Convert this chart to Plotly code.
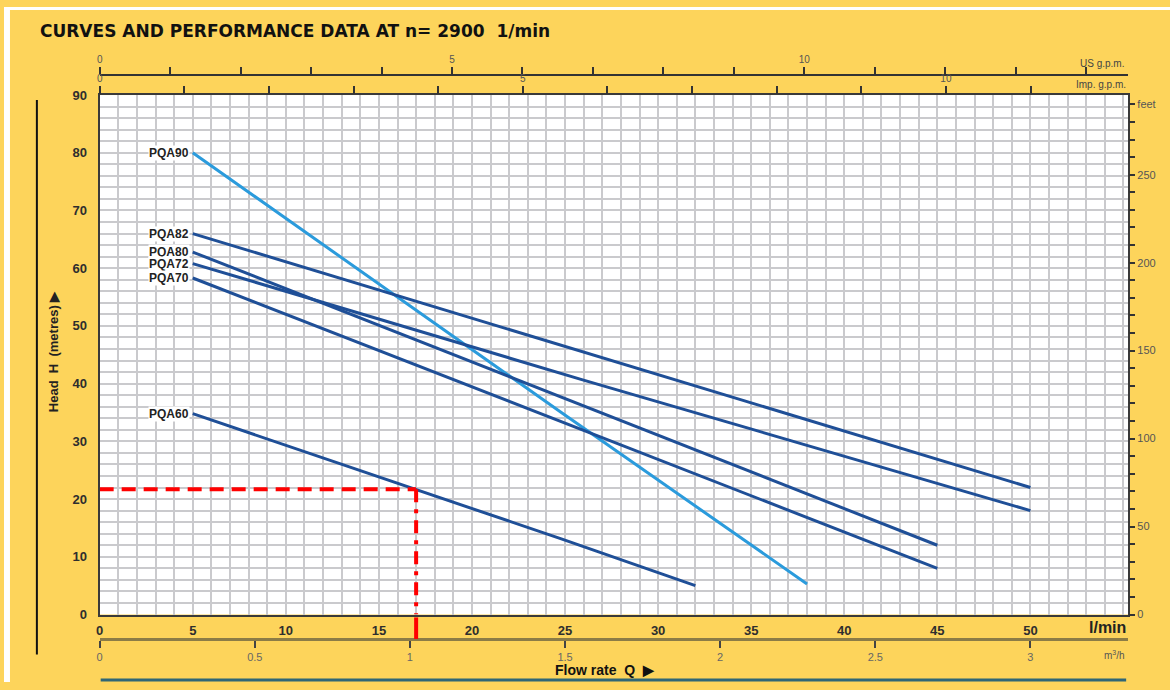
import plotly.graph_objects as go

# ---------------- data ----------------
models = ["PQA90", "PQA82", "PQA80", "PQA72", "PQA70", "PQA60"]
flow_lpm = {
    "PQA90": [5, 24.8, 38.0],
    "PQA82": [5, 30.2, 50.0],
    "PQA80": [5, 24.8, 45.0],
    "PQA72": [5, 25.9, 50.0],
    "PQA70": [5, 24.8, 45.0],
    "PQA60": [5, 24.8, 32.0],
}
head_m = {
    "PQA90": [80.0, 35.0, 5.3],
    "PQA82": [66.0, 41.4, 22.0],
    "PQA80": [62.8, 37.7, 12.0],
    "PQA72": [60.8, 40.7, 18.0],
    "PQA70": [58.3, 33.4, 8.0],
    "PQA60": [34.8, 13.1, 5.0],
}
curve_colors = {
    "PQA90": "#2b9bdc",
    "PQA82": "#1f4f97",
    "PQA80": "#1f4f97",
    "PQA72": "#1f4f97",
    "PQA70": "#1f4f97",
    "PQA60": "#1f4f97",
}
duty_q = 17.0   # l/min
duty_h = 21.7   # m

lpm_ticks = list(range(0, 51, 5))
head_ticks = list(range(0, 91, 10))
m3h_ticks = [0, 0.5, 1, 1.5, 2, 2.5, 3]
m3h_labels = ["0", "0.5", "1", "1.5", "2", "2.5", "3"]
usgpm_ticks = list(range(0, 15))
usgpm_labels = ["0" if v == 0 else ("5" if v == 5 else ("10" if v == 10 else " ")) for v in usgpm_ticks]
impgpm_ticks = list(range(0, 12))
impgpm_labels = ["0" if v == 0 else ("5" if v == 5 else ("10" if v == 10 else " ")) for v in impgpm_ticks]
feet_ticks = list(range(0, 291, 10))
feet_labels = [("feet" if v == 290 else (str(v) if v % 50 == 0 else " ")) for v in feet_ticks]

Q_RANGE = [0, 55.25]
H_RANGE = [0, 90]
LPM_PER_USGPM = 3.78541
LPM_PER_IMPGPM = 4.54609
LPM_PER_M3H = 1000 / 60
M_PER_FT = 0.3048

# ---------------- layout helpers ----------------
W, H = 1170, 690
def px(x):
    return x / W
def py(y):
    return 1 - y / H

FONT = "Liberation Sans"
HEAVY = "DejaVu Sans"
YELLOW = "#fdd45b"
GRID = "#cacacd"
L, R, T, B = 96, 1128, 90, 621

fig = go.Figure()

for m in models:
    fig.add_trace(go.Scatter(
        x=flow_lpm[m], y=head_m[m], mode="lines",
        line=dict(color=curve_colors[m], width=3),
        showlegend=False, hoverinfo="skip"))

# duty point lines
fig.add_trace(go.Scatter(
    x=[0, duty_q], y=[duty_h, duty_h], mode="lines",
    line=dict(color="#ff0000", width=4, dash="14px,8px"),
    showlegend=False, hoverinfo="skip"))
fig.add_trace(go.Scatter(
    x=[duty_q, duty_q], y=[duty_h, 0], mode="lines",
    line=dict(color="#ff0000", width=4, dash="13px,7px,4px,7px"),
    showlegend=False, hoverinfo="skip"))

# invisible traces to activate secondary axes
for xa, ya in [("x2", "y"), ("x3", "y"), ("x4", "y"), ("x", "y2")]:
    fig.add_trace(go.Scatter(x=[0], y=[0], xaxis=xa, yaxis=ya, mode="markers",
                             marker=dict(opacity=0), showlegend=False, hoverinfo="skip"))

tick_bold = dict(family=FONT, size=13, color="#2e2e2e", weight="bold")
small = dict(family=FONT, size=10, color="#555555")

fig.update_layout(
    width=W, height=H,
    margin=dict(l=0, r=0, t=0, b=0),
    paper_bgcolor=YELLOW, plot_bgcolor="white",
    showlegend=False,
    xaxis=dict(
        domain=[px(L), px(R)], range=Q_RANGE, tickmode="array", tickvals=lpm_ticks,
        showgrid=True, gridcolor=GRID, gridwidth=1.6,
        minor=dict(tickmode="linear", tick0=0, dtick=1, showgrid=True,
                   gridcolor=GRID, gridwidth=1.6, ticks=""),
        showline=True, linecolor="#3a3a3a", linewidth=2, mirror=True,
        ticks="", tickfont=tick_bold, ticklabelstandoff=3, zeroline=False,
        anchor="y", fixedrange=True),
    yaxis=dict(
        domain=[py(B), py(T)], range=H_RANGE, tickmode="array", tickvals=head_ticks,
        showgrid=True, gridcolor=GRID, gridwidth=1.6,
        minor=dict(tickmode="linear", tick0=0, dtick=2, showgrid=True,
                   gridcolor=GRID, gridwidth=1.6, ticks=""),
        showline=True, linecolor="#3a3a3a", linewidth=2, mirror=True,
        ticks="", tickfont=tick_bold, ticklabelstandoff=8, zeroline=False,
        anchor="x", fixedrange=True),
    yaxis2=dict(
        overlaying="y", side="right", anchor="x",
        range=[H_RANGE[0] / M_PER_FT, H_RANGE[1] / M_PER_FT],
        tickmode="array", tickvals=feet_ticks, ticktext=feet_labels,
        ticks="outside", ticklen=6, tickwidth=1.5, tickcolor="#333333",
        showgrid=False, showline=False, zeroline=False,
        tickfont=dict(family=FONT, size=11, color="#555555"), fixedrange=True),
    xaxis2=dict(
        overlaying="x", side="top", anchor="y",
        range=[Q_RANGE[0] / LPM_PER_IMPGPM, Q_RANGE[1] / LPM_PER_IMPGPM],
        tickmode="array", tickvals=impgpm_ticks, ticktext=impgpm_labels,
        ticks="outside", ticklen=8, tickwidth=1.5, tickcolor="#333333",
        showgrid=False, showline=False, zeroline=False,
        tickfont=small, fixedrange=True),
    xaxis3=dict(
        overlaying="x", side="top", anchor="free", position=py(69),
        range=[Q_RANGE[0] / LPM_PER_USGPM, Q_RANGE[1] / LPM_PER_USGPM],
        tickmode="array", tickvals=usgpm_ticks, ticktext=usgpm_labels,
        ticks="outside", ticklen=7, tickwidth=1.5, tickcolor="#333333",
        showgrid=False, showline=True, linecolor="#333333", linewidth=2, zeroline=False,
        tickfont=small, fixedrange=True),
    xaxis4=dict(
        overlaying="x", side="bottom", anchor="free", position=py(646),
        range=[Q_RANGE[0] / LPM_PER_M3H, Q_RANGE[1] / LPM_PER_M3H],
        tickmode="array", tickvals=m3h_ticks, ticktext=m3h_labels,
        ticks="outside", ticklen=7, tickwidth=1.5, tickcolor="#444444",
        showgrid=False, showline=True, linecolor="#8c7c46", linewidth=2.5, zeroline=False,
        tickfont=dict(family=FONT, size=11, color="#666666"), fixedrange=True),
)

ann = []
ann.append(dict(xref="paper", yref="paper", x=px(34), y=py(25), xanchor="left", yanchor="middle",
                text="<b>CURVES AND PERFORMANCE DATA AT n= 2900\u00a0\u00a01/min</b>",
                showarrow=False, font=dict(family=HEAVY, size=17, color="#111111")))
ann.append(dict(xref="paper", yref="paper", x=px(50), y=py(352), xanchor="center", yanchor="middle",
                textangle=-90, text="<b>Head\u00a0\u00a0H\u00a0\u00a0(metres)\u00a0\u25B6</b>",
                showarrow=False, font=dict(family=FONT, size=13, color="#222222")))
ann.append(dict(xref="paper", yref="paper", x=px(603), y=py(678), xanchor="center", yanchor="middle",
                text="<b>Flow rate\u00a0\u00a0Q\u00a0\u00a0\u25B6</b>",
                showarrow=False, font=dict(family=FONT, size=14, color="#111111")))
ann.append(dict(xref="paper", yref="paper", x=px(1128), y=py(634), xanchor="right", yanchor="middle",
                text="<b>l/min</b>", showarrow=False, font=dict(family=FONT, size=16, color="#222222")))
ann.append(dict(xref="paper", yref="paper", x=px(1127), y=py(662), xanchor="right", yanchor="middle",
                text="m<sup>3</sup>/h", showarrow=False, font=dict(family=FONT, size=10, color="#555555")))
ann.append(dict(xref="paper", yref="paper", x=px(1126), y=py(58), xanchor="right", yanchor="middle",
                text="US g.p.m.", showarrow=False, font=dict(family=FONT, size=10, color="#444444")))
ann.append(dict(xref="paper", yref="paper", x=px(1128), y=py(79), xanchor="right", yanchor="middle",
                text="Imp. g.p.m.", showarrow=False, font=dict(family=FONT, size=10, color="#444444")))
for m in models:
    ann.append(dict(xref="x", yref="y", x=flow_lpm[m][0], y=head_m[m][0], xanchor="right",
                    yanchor="middle", xshift=-3, text="<b>" + m + "</b>", showarrow=False,
                    bgcolor="white", borderpad=0,
                    font=dict(family=FONT, size=12, color="#222222")))
fig.update_layout(annotations=ann)

shapes = []
# left frame line
shapes.append(dict(type="line", xref="paper", yref="paper", x0=px(33), x1=px(33),
                   y0=py(95), y1=py(662), line=dict(color="#111111", width=2)))
# bottom teal rule
shapes.append(dict(type="line", xref="paper", yref="paper", x0=px(97), x1=px(1126),
                   y0=py(688), y1=py(688), line=dict(color="#2f6676", width=3)))
# duty point extension below the plot
shapes.append(dict(type="line", xref="x", yref="paper", x0=duty_q, x1=duty_q,
                   y0=py(646), y1=py(624), line=dict(color="#ff0000", width=4)))
# white edges
shapes.append(dict(type="rect", xref="paper", yref="paper", x0=0, x1=px(6), y0=0, y1=1,
                   line=dict(width=0), fillcolor="white", layer="below"))
shapes.append(dict(type="rect", xref="paper", yref="paper", x0=0, x1=1, y0=py(3), y1=1,
                   line=dict(width=0), fillcolor="white", layer="below"))
fig.update_layout(shapes=shapes)

fig.write_html("out.html", config={"displayModeBar": False},
               post_script="document.body.style.margin='0px';")
